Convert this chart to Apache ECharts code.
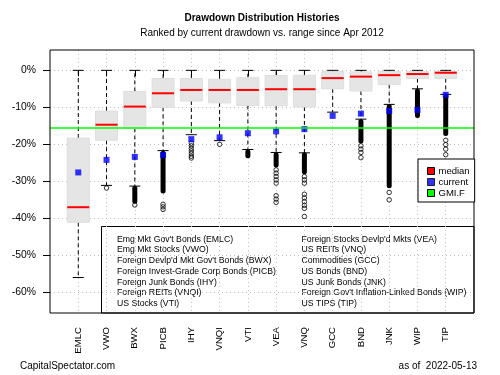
<!DOCTYPE html>
<html>
<head>
<meta charset="utf-8">
<script src="https://cdn.jsdelivr.net/npm/echarts@6/dist/echarts.min.js"></script>
<style>
  html, body { margin: 0; padding: 0; background: #fff; }
  #chart { width: 500px; height: 375px; }
</style>
</head>
<body>
<div id="chart"></div>
<script>
// drawdown distributions, percent
var tickers = ['EMLC', 'VWO', 'BWX', 'PICB', 'IHY', 'VNQI', 'VTI', 'VEA', 'VNQ', 'GCC', 'BND', 'JNK', 'WIP', 'TIP'];
var whiskerHigh = [0, 0, 0, 0, 0, 0, 0, 0, 0, 0, 0, 0, 0, 0];
var boxTop = [-18.3, -11.0, -5.7, -2.2, -2.2, -2.4, -2.0, -1.4, -1.35, -0.3, -0.4, -0.3, -0.3, -0.3];
var median = [-37.0, -14.7, -9.8, -6.2, -5.3, -5.3, -5.3, -5.1, -5.1, -2.1, -1.7, -1.3, -1.0, -0.65];
var boxBottom = [-41.1, -18.9, -15.7, -10.0, -8.3, -8.8, -9.5, -9.6, -9.9, -5.0, -5.6, -3.85, -2.2, -2.2];
var whiskerLow = [-56.0, -31.1, -31.3, -21.7, -17.4, -19.0, -21.4, -22.2, -22.3, -11.3, -13.2, -9.2, -5.0, -6.5];
var current = [-27.6, -24.2, -23.4, -22.9, -18.6, -18.1, -17.0, -16.5, -15.9, -12.3, -11.7, -11.0, -10.7, -6.6];
var gmifCurrent = -15.6;

// dense runs of outliers (they print as solid bars) and single outliers
var outlierRunFrom = [null, null, -31.5, -22.0, null, null, -21.6, -22.4, -22.4, null, -13.4, -9.4, -5.2, -6.7];
var outlierRunTo = [null, null, -35.8, -33.0, null, null, -23.5, -26.0, -27.8, null, -19.5, -31.6, -12.6, -17.5];
var outlierPoints = [
    [],
    [-31.8],
    [-36.4],
    [-36.2, -36.9, -37.6],
    [-19.7, -20.4, -21.1, -21.8, -22.5, -23.2, -23.7],
    [-20.0],
    [],
    [-26.9, -27.8, -28.7, -29.6, -30.5, -33.9, -34.8, -35.7],
    [-28.7, -29.6, -30.5, -33.5, -34.5, -35.5, -36.5, -37.3, -39.5],
    [],
    [-20.4, -21.3, -22.2, -23.6],
    [-33.0, -35.0],
    [],
    [-18.9, -20.1, -21.3, -22.8]
];
var yTicks = [0, -10, -20, -30, -40, -50, -60];

var leftNames = [
    "Emg Mkt Gov't Bonds (EMLC)",
    "Emg Mkt Stocks (VWO)",
    "Foreign Devlp'd Mkt Gov't Bonds (BWX)",
    "Foreign Invest-Grade Corp Bonds (PICB)",
    "Foreign Junk Bonds (IHY)",
    "Foreign REITs (VNQI)",
    "US Stocks (VTI)"
];
var rightNames = [
    "Foreign Stocks Devlp'd Mkts (VEA)",
    "US REITs (VNQ)",
    "Commodities (GCC)",
    "US Bonds (BND)",
    "US Junk Bonds (JNK)",
    "Foreign Gov't Inflation-Linked Bonds (WIP)",
    "US TIPS (TIP)"
];

var FONT = "'Liberation Sans', Arial, Helvetica, sans-serif";

// padded category axis: blank slot at each end gives R-like spacing
var axisCats = [''].concat(tickers, ['']);

var boxData = tickers.map(function (t, i) {
    return [i + 1, whiskerHigh[i], boxTop[i], median[i], boxBottom[i], whiskerLow[i]];
});
var runData = [];
tickers.forEach(function (t, i) {
    if (outlierRunFrom[i] != null) runData.push([i + 1, outlierRunFrom[i], outlierRunTo[i]]);
});
var pointData = [];
outlierPoints.forEach(function (list, i) {
    list.forEach(function (v) { pointData.push([i + 1, v]); });
});
var currentData = current.map(function (v, i) { return [i + 1, v]; });

function renderBox(params, api) {
    var x = api.value(0);
    var hi = api.coord([x, api.value(1)]);
    var q3 = api.coord([x, api.value(2)]);
    var med = api.coord([x, api.value(3)]);
    var q1 = api.coord([x, api.value(4)]);
    var lo = api.coord([x, api.value(5)]);
    var w = api.size([1, 0])[0] * 0.78;
    var cx = hi[0];
    var dash = { stroke: '#000', lineWidth: 1, lineDash: [4, 3] };
    var solid = { stroke: '#000', lineWidth: 1 };
    return {
        type: 'group',
        children: [
            { type: 'line', shape: { x1: cx, y1: q3[1], x2: cx, y2: hi[1] }, style: dash },
            { type: 'line', shape: { x1: cx, y1: q1[1], x2: cx, y2: lo[1] }, style: dash },
            { type: 'line', shape: { x1: cx - w / 4, y1: hi[1], x2: cx + w / 4, y2: hi[1] }, style: solid },
            { type: 'line', shape: { x1: cx - w / 4, y1: lo[1], x2: cx + w / 4, y2: lo[1] }, style: solid },
            { type: 'rect', shape: { x: cx - w / 2, y: q3[1], width: w, height: q1[1] - q3[1] },
              style: { fill: '#e5e5e5', stroke: '#dedede', lineWidth: 1 } },
            { type: 'line', shape: { x1: cx - w / 2, y1: med[1], x2: cx + w / 2, y2: med[1] },
              style: { stroke: '#ff0000', lineWidth: 2 } }
        ]
    };
}

function renderRun(params, api) {
    var a = api.coord([api.value(0), api.value(1)]);
    var b = api.coord([api.value(0), api.value(2)]);
    return {
        type: 'rect',
        shape: { x: a[0] - 2.5, y: a[1] - 1, width: 5, height: b[1] - a[1] + 2, r: 2.5 },
        style: { fill: '#000' }
    };
}

var myChart = echarts.init(document.getElementById('chart'), null, { renderer: 'canvas' });

var option = {
    animation: false,
    textStyle: { fontFamily: FONT, color: '#000' },
    title: {
        text: 'Drawdown Distribution Histories',
        subtext: 'Ranked by current drawdown vs. range since Apr 2012',
        left: 262,
        top: 13,
        textAlign: 'center',
        padding: 0,
        itemGap: 5,
        textStyle: { fontFamily: FONT, fontSize: 10, fontWeight: 'bold', color: '#000' },
        subtextStyle: { fontFamily: FONT, fontSize: 10, color: '#000' }
    },
    legend: {
        data: ['median', 'current', 'GMI.F'],
        orient: 'vertical',
        left: 418,
        top: 159,
        padding: [7, 5, 4, 9],
        itemWidth: 7,
        itemHeight: 7,
        itemGap: 1,
        icon: 'rect',
        selectedMode: false,
        backgroundColor: '#fff',
        borderColor: '#000',
        borderWidth: 1,
        borderRadius: 0,
        itemStyle: { borderColor: '#000', borderWidth: 1 },
        textStyle: { fontFamily: FONT, fontSize: 9.5, lineHeight: 10, color: '#000', padding: [0, 0, 0, -1] },
        z: 20
    },
    grid: { left: 50, right: 26, top: 50, bottom: 62 },
    xAxis: {
        type: 'category',
        data: axisCats,
        boundaryGap: false,
        axisLine: { show: false },
        axisTick: {
            show: true,
            length: 6,
            interval: function (idx) { return idx > 0 && idx < axisCats.length - 1; },
            lineStyle: { color: '#000' }
        },
        axisLabel: {
            interval: 0,
            rotate: 90,
            margin: 14,
            fontSize: 9.6,
            color: '#000',
            fontFamily: FONT
        },
        splitLine: {
            show: true,
            interval: function (idx) { return idx > 0 && idx < axisCats.length - 1; },
            lineStyle: { color: '#c0c0c0', type: [1, 3], width: 1 }
        }
    },
    yAxis: {
        type: 'value',
        min: -65.6,
        max: 5.5,
        splitNumber: 7,
        axisLine: { show: false },
        axisTick: { show: true, length: 7, customValues: yTicks, lineStyle: { color: '#000' } },
        axisLabel: {
            customValues: yTicks,
            margin: 14,
            fontSize: 10.4,
            color: '#000',
            fontFamily: FONT,
            formatter: function (v) { return v + '%'; }
        },
        splitLine: { show: true, lineStyle: { color: '#c0c0c0', type: [1, 3], width: 1 } }
    },
    series: [
        {
            name: 'median',
            type: 'custom',
            renderItem: renderBox,
            data: boxData,
            encode: { x: 0, y: [1, 2, 3, 4, 5] },
            itemStyle: { color: '#ff0000' },
            silent: true,
            z: 2
        },
        {
            name: 'outlierRuns',
            type: 'custom',
            renderItem: renderRun,
            data: runData,
            encode: { x: 0, y: [1, 2] },
            silent: true,
            z: 3
        },
        {
            name: 'outliers',
            type: 'scatter',
            data: pointData,
            symbol: 'circle',
            symbolSize: 4.5,
            itemStyle: { color: 'rgba(0,0,0,0)', borderColor: '#000', borderWidth: 1 },
            silent: true,
            z: 3
        },
        {
            name: 'current',
            type: 'scatter',
            data: currentData,
            symbol: 'rect',
            symbolSize: 6,
            itemStyle: { color: '#0000ff' },
            silent: true,
            z: 4
        },
        {
            name: 'GMI.F',
            type: 'line',
            data: [],
            itemStyle: { color: '#00ff00' },
            lineStyle: { color: '#00ff00' },
            z: 5,
            markLine: {
                silent: true,
                symbol: 'none',
                label: { show: false },
                lineStyle: { color: '#00ff00', width: 1.5, type: 'solid' },
                data: [{ yAxis: gmifCurrent }]
            }
        }
    ],
    graphic: [
        {
            type: 'rect',
            shape: { x: 50, y: 50, width: 424, height: 263 },
            style: { fill: 'none', stroke: '#000', lineWidth: 1 },
            silent: true,
            z: 10
        },
        {
            type: 'group',
            z: 15,
            silent: true,
            children: [
                {
                    type: 'rect',
                    shape: { x: 101.5, y: 226.5, width: 372.5, height: 86.5 },
                    style: { fill: '#fff', stroke: '#000', lineWidth: 1 }
                },
                {
                    type: 'text',
                    style: {
                        x: 117, y: 234, text: leftNames.join('\n'),
                        font: '8.7px ' + FONT, lineHeight: 10.7, fill: '#000', verticalAlign: 'top'
                    }
                },
                {
                    type: 'text',
                    style: {
                        x: 301.5, y: 234, text: rightNames.join('\n'),
                        font: '8.7px ' + FONT, lineHeight: 10.7, fill: '#000', verticalAlign: 'top'
                    }
                }
            ]
        },
        {
            type: 'text',
            silent: true,
            style: { x: 20, y: 366.5, text: 'CapitalSpectator.com', font: '10px ' + FONT, fill: '#000', verticalAlign: 'middle' }
        },
        {
            type: 'text',
            silent: true,
            style: { x: 477, y: 366.5, text: 'as of  2022-05-13', font: '10px ' + FONT, fill: '#000', align: 'right', verticalAlign: 'middle' }
        }
    ]
};

if (option && typeof option === 'object') {
    myChart.setOption(option, true);
}
</script>
</body>
</html>
